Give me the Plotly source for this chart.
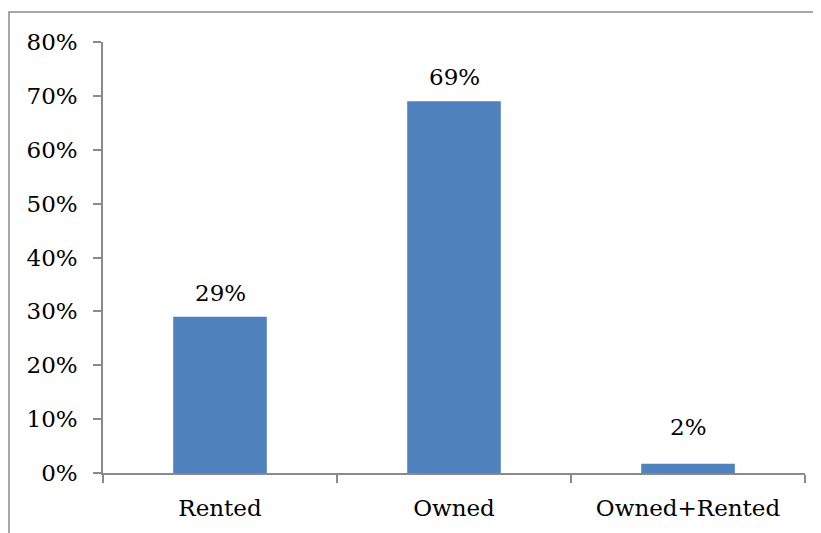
import plotly.graph_objects as go

# datos
categorias = ['Rented', 'Owned', 'Owned+Rented']
porcentajes = [0.29, 0.69, 0.017]
etiquetas = ['29%', '69%', '2%']

fuente = dict(family='DejaVu Serif', size=23, color='black')
gris = '#8a8a8a'

fig = go.Figure()

fig.add_trace(go.Bar(
    x=categorias,
    y=porcentajes,
    width=0.4,
    marker=dict(color='#4F81BD', line=dict(width=0)),
    hovertemplate='%{x}: %{y:.0%}<extra></extra>'
))

# etiquetas de datos sobre las barras
for cat, val, txt in zip(categorias, porcentajes, etiquetas):
    fig.add_annotation(
        x=cat, y=max(val, 0.04), text=txt, showarrow=False,
        yanchor='middle', yshift=24, font=fuente
    )

# la página tiene 8px de margen en el body
fig.update_layout(
    width=813, height=525,
    margin=dict(l=95, r=16, t=34, b=60),
    paper_bgcolor='white',
    plot_bgcolor='white',
    showlegend=False,
    font=fuente,
    xaxis=dict(
        showline=True, linecolor=gris, linewidth=1.5,
        ticks='outside', ticklen=8, tickcolor=gris, tickwidth=1.5,
        tickson='boundaries', showgrid=False,
        tickfont=fuente, ticklabelstandoff=14
    ),
    yaxis=dict(
        range=[0, 0.8], dtick=0.1, tickformat='.0%',
        showline=True, linecolor=gris, linewidth=1.5,
        ticks='outside', ticklen=8, tickcolor=gris, tickwidth=1.5,
        showgrid=False, zeroline=False,
        tickfont=fuente, ticklabelstandoff=11
    ),
    shapes=[dict(
        type='rect', xref='paper', yref='paper',
        x0=-0.1339, x1=1.0185, y0=-0.16, y1=1.0696,
        line=dict(color=gris, width=1.5), fillcolor='rgba(0,0,0,0)'
    )]
)

fig.write_html('out.html')
